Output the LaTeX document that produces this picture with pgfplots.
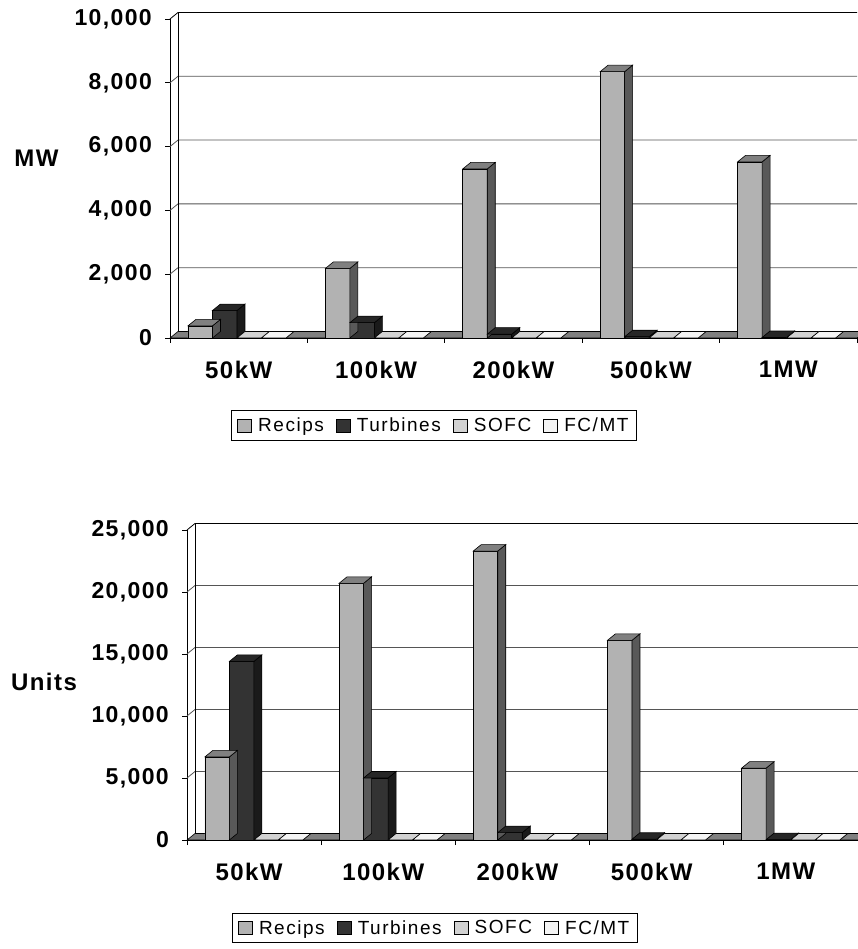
\documentclass[border=0pt]{standalone}
\usepackage{fontspec}
\setmainfont{Liberation Sans}
\newfontfamily\labfont{Liberation Sans}[LetterSpace=6]
\newfontfamily\legfont{Liberation Sans}[LetterSpace=8]
\usepackage{pgfplots}
\usepackage{pgfplotstable}
\usetikzlibrary{patterns}
\pgfplotsset{compat=1.18}

% column colours: front face, top face, side face
\definecolor{recfront}{HTML}{B2B2B2}
\definecolor{rectop}{HTML}{808080}
\definecolor{recside}{HTML}{595959}
\definecolor{turfront}{HTML}{333333}
\definecolor{turtop}{HTML}{262626}
\definecolor{turside}{HTML}{1A1A1A}
\definecolor{sofcfill}{HTML}{D2D2D2}
\definecolor{fcmtfill}{HTML}{F4F4F4}
\definecolor{floorgray}{HTML}{808080}
\definecolor{gridgray}{HTML}{555555}

% depth of the columns (receding to the upper right)
\newcommand\depthx{8}
\newcommand\depthy{6.5}

% installed capacity, MW
\pgfplotstableread{
x     recips turbines sofc fcmt
0.5   380    860      0    0
1.5   2180   480      0    0
2.5   5300   120      0    0
3.5   8350   40       0    0
4.5   5520   15       0    0
}\mwdata

% number of units
\pgfplotstableread{
x     recips turbines sofc fcmt
0.5   6700   14400    0    0
1.5   20700  5000     0    0
2.5   23300  600      0    0
3.5   16100  60       0    0
4.5   5800   30       0    0
}\unitdata

\tikzset{
  prism top/.code={\def\prismtop{#1}},
  prism side/.code={\def\prismside{#1}},
  prism width/.code={\def\prismw{#1}},
  prism shift/.code={\def\prismshift{#1}},
  prism unit/.code={\def\prismunit{#1}},
}

% top and side faces of a column whose front face ends at the data point
\pgfdeclareplotmark{prism}{%
  \edef\ph{\fpeval{\barval*\prismunit}}%
  \edef\pwl{\fpeval{\prismshift-\prismw/2}}%
  \edef\pwr{\fpeval{\prismshift+\prismw/2}}%
  \edef\pbl{\fpeval{\pwl+\depthx}}%
  \edef\pbr{\fpeval{\pwr+\depthx}}%
  \edef\pbot{\fpeval{\depthy-\ph}}%
  \edef\pnh{\fpeval{-\ph}}%
  \pgfsetstrokecolor{black}%
  \pgfsetlinewidth{0.6pt}%
  \pgfsetfillcolor{\prismside}%
  \pgfpathmoveto{\pgfpoint{\pwr pt}{0pt}}%
  \pgfpathlineto{\pgfpoint{\pbr pt}{\depthy pt}}%
  \pgfpathlineto{\pgfpoint{\pbr pt}{\pbot pt}}%
  \pgfpathlineto{\pgfpoint{\pwr pt}{\pnh pt}}%
  \pgfpathclose
  \pgfusepath{fill,stroke}%
  \pgfsetfillcolor{\prismtop}%
  \pgfpathmoveto{\pgfpoint{\pwl pt}{0pt}}%
  \pgfpathlineto{\pgfpoint{\pwr pt}{0pt}}%
  \pgfpathlineto{\pgfpoint{\pbr pt}{\depthy pt}}%
  \pgfpathlineto{\pgfpoint{\pbl pt}{\depthy pt}}%
  \pgfpathclose
  \pgfusepath{fill,stroke}%
}

\pgfplotsset{
  chart3d/.style={
    scale only axis, clip=false,
    xmin=0, xmax=5,
    point meta min=0, point meta max=30000,
    scaled y ticks=false,
    axis lines*=left,
    axis line style={black, line width=0.8pt},
    tick align=outside,
    xtick={0.5,1.5,2.5,3.5,4.5},
    xticklabels={50kW,100kW,200kW,500kW,1MW},
    major x tick style={draw=none},
    minor xtick={0,1,2,3,4,5},
    minor x tick style={black, line width=0.8pt},
    minor tick length=5pt,
    major tick length=5pt,
    ytick style={black, line width=0.8pt},
    xticklabel style={font=\labfont\bfseries\fontsize{24}{24}\selectfont,
      anchor=north, inner sep=0pt, yshift=-18pt},
    yticklabel style={font=\labfont\bfseries\fontsize{23}{23}\selectfont,
      anchor=east, inner sep=0pt, xshift=-13pt},
    legend columns=4,
    legend style={draw=black, line width=0.8pt,
      font=\legfont\fontsize{19}{19}\selectfont, anchor=center,
      inner xsep=6pt, inner ysep=5pt,
      nodes={inner xsep=2pt, inner ysep=2pt},
      /tikz/every odd column/.append style={column sep=4.5pt},
      /tikz/every even column/.append style={column sep=10pt}},
    legend image code/.code={\draw[#1, line width=0.6pt] (0pt,-6.5pt) rectangle (14pt,6.5pt);},
  },
  front/.style n args={3}{ybar, bar width=24.5pt, bar shift=#1pt,
    fill=#2, draw=black, line width=0.6pt, #3},
  faces/.style n args={5}{forget plot, only marks, scatter, point meta=y,
    mark=prism, visualization depends on={rawy \as \barval},
    prism shift=#1, prism width=24.5, prism top=#2, prism side=#3,
    prism unit=#4},
  dotted fill/.style={postaction={pattern=crosshatch dots, pattern color=black!45}},
}

% back wall grid, left wall and floor of a 3-D chart
\newcommand\walls[2]{%
  \pgfplotsinvokeforeach{#1}{%
    \draw[gridgray, line width=0.8pt] (axis cs:0,##1) -- ++(\depthx pt,\depthy pt)
      -- ([yshift=\depthy pt]axis cs:5,##1);}%
  \draw[black, line width=0.8pt] (axis cs:0,#2) -- ++(\depthx pt,\depthy pt)
      -- ([yshift=\depthy pt]axis cs:5,#2);
  \draw[black, line width=0.8pt] ([shift={(\depthx pt,\depthy pt)}]axis cs:0,0)
      -- ([shift={(\depthx pt,\depthy pt)}]axis cs:0,#2);
  \draw[black, line width=0.6pt, fill=floorgray] (axis cs:0,0) -- (axis cs:5,0)
      -- ++(\depthx pt,\depthy pt) -- ([shift={(\depthx pt,\depthy pt)}]axis cs:0,0)
      -- cycle;
}

\begin{document}
\begin{tikzpicture}

% ---- capacity (MW) ----
\begin{axis}[chart3d,
  at={(170pt,611pt)}, anchor=south west,
  width=687pt, height=319pt,
  ymin=0, ymax=10000,
  ytick={0,2000,4000,6000,8000,10000},
  yticklabels={0,{2,000},{4,000},{6,000},{8,000},{10,000}},
  legend style={at={(0.384,-0.2737)}},
]
\walls{2000,4000,6000,8000}{10000}
\addplot[front={-38.5}{recfront}{}] table[x=x, y=recips] {\mwdata};
\addlegendentry{Recips}
\addplot[faces={-38.5}{rectop}{recside}{0.0319}{}] table[x=x, y=recips] {\mwdata};
\addplot[front={-14}{turfront}{}] table[x=x, y=turbines] {\mwdata};
\addlegendentry{Turbines}
\addplot[faces={-14}{turtop}{turside}{0.0319}{}] table[x=x, y=turbines] {\mwdata};
\addplot[front={10.5}{sofcfill}{}] table[x=x, y=sofc] {\mwdata};
\addlegendentry{SOFC}
\addplot[faces={10.5}{sofcfill}{sofcfill}{0.0319}{}] table[x=x, y=sofc] {\mwdata};
\addplot[front={35}{fcmtfill}{}] table[x=x, y=fcmt] {\mwdata};
\addlegendentry{FC/MT}
\addplot[faces={35}{fcmtfill}{fcmtfill}{0.0319}{}] table[x=x, y=fcmt] {\mwdata};
\end{axis}

% ---- number of units ----
\begin{axis}[chart3d,
  at={(187pt,109pt)}, anchor=south west,
  width=671pt, height=310pt,
  ymin=0, ymax=25000,
  ytick={0,5000,10000,15000,20000,25000},
  yticklabels={0,{5,000},{10,000},{15,000},{20,000},{25,000}},
  xticklabel style={xshift=-5pt},
  legend style={at={(0.369,-0.284)}},
]
\walls{5000,10000,15000,20000}{25000}
\addplot[front={-37}{recfront}{}] table[x=x, y=recips] {\unitdata};
\addlegendentry{Recips}
\addplot[faces={-37}{rectop}{recside}{0.0124}{}] table[x=x, y=recips] {\unitdata};
\addplot[front={-12.5}{turfront}{}] table[x=x, y=turbines] {\unitdata};
\addlegendentry{Turbines}
\addplot[faces={-12.5}{turtop}{turside}{0.0124}{}] table[x=x, y=turbines] {\unitdata};
\addplot[front={12}{sofcfill}{}] table[x=x, y=sofc] {\unitdata};
\addlegendentry{SOFC}
\addplot[faces={12}{sofcfill}{sofcfill}{0.0124}{}] table[x=x, y=sofc] {\unitdata};
\addplot[front={36.5}{fcmtfill}{}] table[x=x, y=fcmt] {\unitdata};
\addlegendentry{FC/MT}
\addplot[faces={36.5}{fcmtfill}{fcmtfill}{0.0124}{}] table[x=x, y=fcmt] {\unitdata};
\end{axis}

\node[font=\labfont\bfseries\fontsize{24}{24}\selectfont] at (36.5pt,791pt) {MW};
\node[font=\labfont\bfseries\fontsize{24}{24}\selectfont] at (44pt,267pt) {Units};

\pgfresetboundingbox
\path[use as bounding box] (0,0) rectangle (858pt,949pt);
\end{tikzpicture}
\end{document}
